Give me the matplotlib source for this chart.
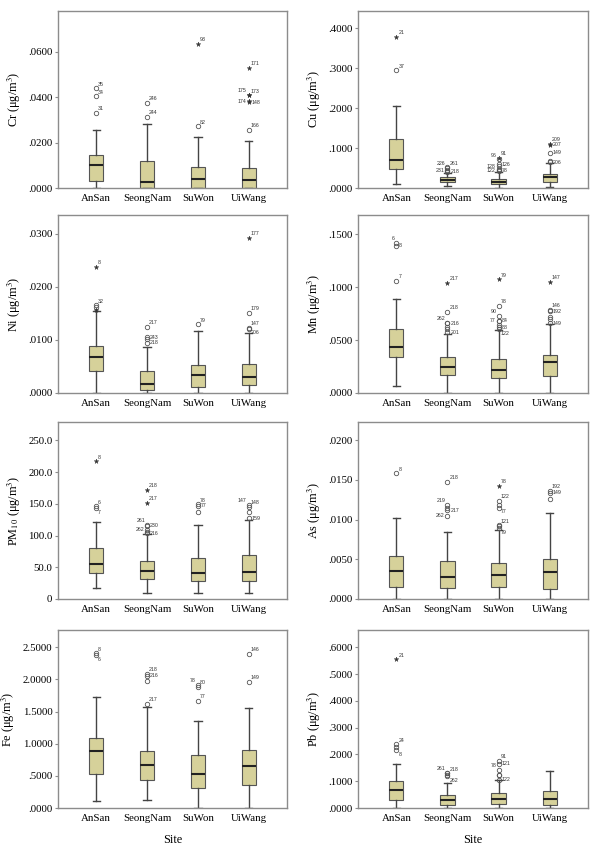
import matplotlib
matplotlib.use('Agg')
import matplotlib.pyplot as plt
from matplotlib.ticker import FuncFormatter

plt.rcParams['font.family'] = 'Liberation Serif'
plt.rcParams['mathtext.fontset'] = 'stix'

sites = ['AnSan', 'SeongNam', 'SuWon', 'UiWang']

# box stats per site: (whisker low, q1, median, q3, whisker high)
cr_box = [(0.0002, 0.0032, 0.0100, 0.0145, 0.0256),
          (0.0, 0.0002, 0.0025, 0.0119, 0.0281),
          (0.0, 0.0002, 0.0038, 0.0092, 0.0225),
          (0.0, 0.0002, 0.0034, 0.0088, 0.0206)]
cu_box = [(0.010, 0.0483, 0.0708, 0.1225, 0.2058),
          (0.004, 0.0142, 0.0208, 0.0267, 0.0375),
          (0.0, 0.0100, 0.0158, 0.0233, 0.0410),
          (0.0025, 0.0158, 0.0267, 0.0358, 0.0625)]
ni_box = [(0.0, 0.00414, 0.00672, 0.00879, 0.01544),
          (0.0, 0.00063, 0.00176, 0.00414, 0.00866),
          (0.0, 0.00113, 0.00339, 0.00527, 0.01167),
          (0.0, 0.00150, 0.00301, 0.00552, 0.01130)]
mn_box = [(0.0063, 0.0336, 0.0436, 0.0606, 0.0891),
          (0.0, 0.0169, 0.0245, 0.0339, 0.0559),
          (0.0, 0.0141, 0.0220, 0.0320, 0.0590),
          (0.0, 0.0157, 0.0289, 0.0355, 0.0650)]
pm_box = [(17.3, 40.8, 55.4, 80.5, 120.8),
          (9.4, 31.4, 44.5, 60.1, 102.5),
          (9.4, 28.8, 40.3, 64.3, 116.6),
          (9.4, 27.7, 42.4, 69.6, 125.0)]
as_box = [(0.0, 0.00146, 0.00356, 0.00536, 0.01025),
          (0.0, 0.00138, 0.00272, 0.00481, 0.00849),
          (0.0, 0.00155, 0.00297, 0.00452, 0.00870),
          (0.0, 0.00126, 0.00335, 0.00506, 0.01080)]
fe_box = [(0.104, 0.525, 0.884, 1.092, 1.731),
          (0.120, 0.431, 0.676, 0.884, 1.564),
          (0.0, 0.312, 0.530, 0.832, 1.351),
          (0.0, 0.359, 0.650, 0.899, 1.549)]
pb_box = [(0.0012, 0.0287, 0.0686, 0.0998, 0.1647),
          (0.0, 0.0125, 0.0287, 0.0480, 0.0950),
          (0.0, 0.0150, 0.0320, 0.0550, 0.1030),
          (0.0, 0.0110, 0.0340, 0.0650, 0.1400)]

# outliers: (site index, value, marker, case label)
cr_out = [(0, 0.0439, 'o', '35'), (0, 0.0404, 'o', '34'), (0, 0.0331, 'o', '31'),
          (1, 0.0375, 'o', '246'), (1, 0.0313, 'o', '244'),
          (2, 0.0634, '*', '93'), (2, 0.0272, 'o', '82'),
          (3, 0.0531, '*', '171'), (3, 0.0412, '*', '175'), (3, 0.0408, '*', '173'),
          (3, 0.0382, '*', '174'), (3, 0.0378, '*', '148'), (3, 0.0255, 'o', '166')]
cu_out = [(0, 0.3775, '*', '21'), (0, 0.2940, 'o', '37'),
          (1, 0.0520, 'o', '226'), (1, 0.0500, 'o', '261'), (1, 0.0460, 'o', ''),
          (1, 0.0430, 'o', '231'), (1, 0.0410, 'o', '218'),
          (2, 0.0750, '*', '91'), (2, 0.0720, 'o', '96'), (2, 0.0600, 'o', '126'),
          (2, 0.0550, 'o', '128'), (2, 0.0480, 'o', ''), (2, 0.0440, 'o', '122'),
          (2, 0.0430, 'o', '78'),
          (3, 0.1110, '*', '209'), (3, 0.1080, '*', '207'), (3, 0.0880, 'o', '149'),
          (3, 0.0680, 'o', ''), (3, 0.0650, 'o', '206')]
ni_out = [(0, 0.0237, '*', '8'), (0, 0.0165, 'o', '32'), (0, 0.0161, 'o', ''),
          (0, 0.0156, '*', ''),
          (1, 0.0125, 'o', '217'), (1, 0.0105, 'o', '243'), (1, 0.0101, 'o', ''),
          (1, 0.0095, 'o', '218'),
          (2, 0.0129, 'o', '79'),
          (3, 0.0292, '*', '177'), (3, 0.0151, 'o', '179'), (3, 0.0123, 'o', '147'),
          (3, 0.0121, 'o', '206')]
mn_out = [(0, 0.1420, 'o', '6'), (0, 0.1390, 'o', '8'), (0, 0.1060, 'o', '7'),
          (1, 0.1039, '*', '217'), (1, 0.0769, 'o', '218'), (1, 0.0665, 'o', '262'),
          (1, 0.0660, 'o', '216'), (1, 0.0620, 'o', ''), (1, 0.0605, 'o', ''),
          (1, 0.0575, 'o', '201'),
          (2, 0.1073, '*', '79'), (2, 0.0822, 'o', '78'), (2, 0.0728, 'o', '90'),
          (2, 0.0684, 'o', '77'), (2, 0.0680, 'o', '84'), (2, 0.0643, 'o', ''),
          (2, 0.0621, 'o', '88'), (2, 0.0600, 'o', '122'),
          (3, 0.1051, '*', '147'), (3, 0.0785, 'o', '146'), (3, 0.0770, 'o', '192'),
          (3, 0.0715, 'o', ''), (3, 0.0697, 'o', ''), (3, 0.0660, 'o', '149')]
pm_out = [(0, 217.0, '*', '8'), (0, 146.0, 'o', '6'), (0, 143.0, 'o', '7'),
          (1, 172.0, '*', '218'), (1, 152.0, '*', '217'), (1, 116.6, 'o', '261'),
          (1, 115.0, 'o', '230'), (1, 108.8, 'o', '262'), (1, 106.0, 'o', ''),
          (1, 103.6, 'o', '216'),
          (2, 149.0, 'o', '78'), (2, 147.0, 'o', '77'), (2, 137.5, 'o', ''),
          (3, 148.0, 'o', '147'), (3, 145.4, 'o', '148'), (3, 137.5, 'o', ''),
          (3, 127.0, 'o', '159')]
as_out = [(0, 0.01582, 'o', '8'),
          (1, 0.01477, 'o', '218'), (1, 0.01184, 'o', '219'), (1, 0.01151, 'o', ''),
          (1, 0.01121, 'o', '217'), (1, 0.01050, 'o', '262'),
          (2, 0.01427, '*', '78'), (2, 0.01234, 'o', '122'), (2, 0.01184, 'o', ''),
          (2, 0.01150, 'o', '77'), (2, 0.00930, 'o', '121'), (2, 0.00920, 'o', ''),
          (2, 0.00890, 'o', '79'),
          (3, 0.01360, 'o', '192'), (3, 0.01340, 'o', '149'), (3, 0.01260, 'o', '')]
fe_out = [(0, 2.406, 'o', '8'), (0, 2.380, 'o', '6'),
          (1, 2.084, 'o', '218'), (1, 2.060, 'o', '216'), (1, 1.975, 'o', ''),
          (1, 1.622, 'o', '217'),
          (2, 1.913, 'o', '78'), (2, 1.887, 'o', '80'), (2, 1.663, 'o', '77'),
          (3, 2.396, 'o', '146'), (3, 1.959, 'o', '149')]
pb_out = [(0, 0.556, '*', '21'), (0, 0.238, 'o', '24'), (0, 0.228, 'o', ''),
          (0, 0.216, 'o', '8'),
          (1, 0.132, 'o', '261'), (1, 0.130, 'o', '218'), (1, 0.122, 'o', ''),
          (1, 0.118, 'o', '262'),
          (2, 0.177, 'o', '91'), (2, 0.165, 'o', '121'), (2, 0.142, 'o', '78'),
          (2, 0.125, 'o', ''), (2, 0.122, 'o', ''), (2, 0.105, 'o', '122')]

# where a case label sits next to its marker (default: upper right)
# l = upper left, lc = left, c = right, b = lower right
label_side = {
    'Cr': {'175': 'l', '174': 'lc', '148': 'c'},
    'Cu': {'226': 'l', '231': 'lc', '218': 'c', '96': 'l', '128': 'lc',
           '126': 'c', '122': 'lc', '78': 'c', '207': 'c', '149': 'c', '206': 'c'},
    'Ni': {'243': 'c', '218': 'c', '206': 'b'},
    'Mn': {'6': 'l', '8': 'c', '262': 'l', '216': 'c', '201': 'c', '90': 'l',
           '77': 'lc', '84': 'c', '88': 'c', '122': 'b', '192': 'c', '149': 'c'},
    'PM': {'7': 'b', '261': 'l', '230': 'c', '262': 'lc', '216': 'c', '77': 'c',
           '147': 'l', '159': 'c'},
    'As': {'219': 'l', '217': 'c', '262': 'lc', '77': 'b', '79': 'b', '149': 'c'},
    'Fe': {'6': 'b', '216': 'c', '78': 'l'},
    'Pb': {'8': 'b', '261': 'l', '262': 'b', '121': 'c', '78': 'l', '122': 'c'},
}
side_offsets = {'a': ((1.5, 1.2), 'left', 'bottom'),
                'c': ((2.0, 0.0), 'left', 'center'),
                'b': ((1.5, -1.2), 'left', 'top'),
                'l': ((-1.5, 1.2), 'right', 'bottom'),
                'lc': ((-2.0, 0.0), 'right', 'center')}

box_color = '#d6d19a'
frame_color = '#8c8c8c'


def fmt4(v, pos):
    s = f'{v:.4f}'
    return s[1:] if s.startswith('0.') else s


def fmt_pm(v, pos):
    return '0' if abs(v) < 1e-9 else f'{v:.1f}'


def draw_panel(rect, boxes, outliers, ylabel, ymax, yticks, key, fmt, xlabel=None):
    ax = fig.add_axes(rect)
    stats = []
    for b, name in zip(boxes, sites):
        stats.append(dict(whislo=b[0], q1=b[1], med=b[2], q3=b[3], whishi=b[4],
                          fliers=[], label=name))
    ax.bxp(stats, positions=range(1, 5), widths=0.28, patch_artist=True,
           showfliers=False,
           boxprops=dict(facecolor=box_color, edgecolor='#555555', linewidth=0.8),
           medianprops=dict(color='#222222', linewidth=1.5),
           whiskerprops=dict(color='#444444', linewidth=1.0),
           capprops=dict(color='#444444', linewidth=1.0))
    sides = label_side.get(key, {})
    for site, val, mk, lab in outliers:
        if mk == 'o':
            ax.plot(site + 1, val, 'o', ms=3.2, mfc='none', mec='#555555', mew=0.6)
        else:
            ax.plot(site + 1, val, '*', ms=3.5, color='#333333', mew=0.3)
        if lab:
            off, ha, va = side_offsets[sides.get(lab, 'a')]
            ax.annotate(lab, (site + 1, val), xytext=off,
                        textcoords='offset points', ha=ha, va=va,
                        fontsize=3.8, family='Liberation Sans', color='#333333')
    ax.set_xlim(0.25, 4.75)
    ax.set_ylim(0, ymax)
    ax.set_yticks(yticks)
    ax.yaxis.set_major_formatter(FuncFormatter(fmt))
    ax.set_xticks(range(1, 5))
    ax.set_xticklabels(sites)
    ax.tick_params(axis='x', length=0, labelsize=7.8, pad=4)
    ax.tick_params(axis='y', length=2, labelsize=7.8, color=frame_color, pad=2)
    for sp in ax.spines.values():
        sp.set_color(frame_color)
        sp.set_linewidth(1.0)
    ax.set_ylabel(ylabel, fontsize=8.8, labelpad=4)
    if xlabel:
        ax.set_xlabel(xlabel, fontsize=8.8, labelpad=8)
    return ax


W, H = 591, 849
fig = plt.figure(figsize=(W / 100, H / 100), dpi=100)


def rect(x0, x1, y0, y1):
    return [x0 / W, 1 - y1 / H, (x1 - x0) / W, (y1 - y0) / H]


lx = (58, 287)
rx = (358, 588)
rows = [(11, 188), (215, 393), (422, 599), (630, 808)]

draw_panel(rect(*lx, *rows[0]), cr_box, cr_out, 'Cr (μg/m$^3$)', 0.078,
           [0, 0.02, 0.04, 0.06], 'Cr', fmt4)
draw_panel(rect(*rx, *rows[0]), cu_box, cu_out, 'Cu (μg/m$^3$)', 0.4425,
           [0, 0.1, 0.2, 0.3, 0.4], 'Cu', fmt4)
draw_panel(rect(*lx, *rows[1]), ni_box, ni_out, 'Ni (μg/m$^3$)', 0.0335,
           [0, 0.01, 0.02, 0.03], 'Ni', fmt4)
draw_panel(rect(*rx, *rows[1]), mn_box, mn_out, 'Mn (μg/m$^3$)', 0.168,
           [0, 0.05, 0.1, 0.15], 'Mn', fmt4)
draw_panel(rect(*lx, *rows[2]), pm_box, pm_out, 'PM$_{10}$ (μg/m$^3$)', 278.8,
           [0, 50, 100, 150, 200, 250], 'PM', fmt_pm)
draw_panel(rect(*rx, *rows[2]), as_box, as_out, 'As (μg/m$^3$)', 0.0223,
           [0, 0.005, 0.01, 0.015, 0.02], 'As', fmt4)
draw_panel(rect(*lx, *rows[3]), fe_box, fe_out, 'Fe (μg/m$^3$)', 2.77,
           [0, 0.5, 1.0, 1.5, 2.0, 2.5], 'Fe', fmt4, xlabel='Site')
draw_panel(rect(*rx, *rows[3]), pb_box, pb_out, 'Pb (μg/m$^3$)', 0.665,
           [0, 0.1, 0.2, 0.3, 0.4, 0.5, 0.6], 'Pb', fmt4, xlabel='Site')

fig.savefig('out.png', dpi=100)
